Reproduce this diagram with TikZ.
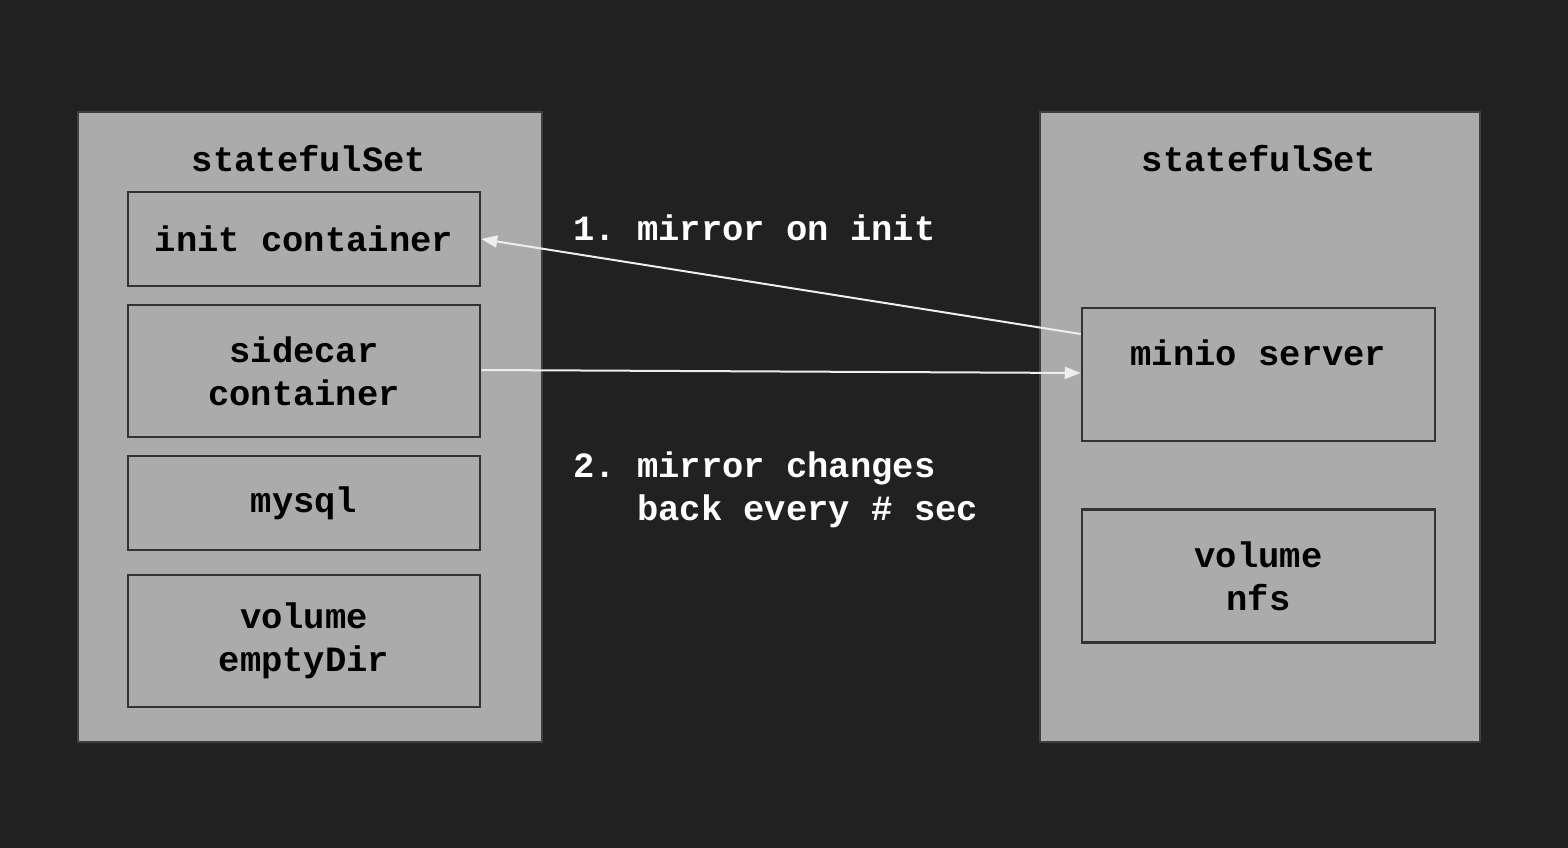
\documentclass[tikz,border=0pt]{standalone}
\usepackage{fontspec}
\setmonofont{Liberation Mono}
\usetikzlibrary{arrows.meta}
\definecolor{bg}{HTML}{212121}
\definecolor{boxfill}{HTML}{ABABAB}
\definecolor{boxline}{HTML}{333333}
\definecolor{outline}{HTML}{3F3F3F}
\definecolor{arrowc}{HTML}{EEEEEE}
\tikzset{
  outerbox/.style={draw=outline, line width=2pt, fill=boxfill, anchor=north west, inner sep=0pt},
  innerbox/.style={draw=boxline, line width=2.5pt, fill=boxfill, inner sep=0pt, align=center,
     font=\fontsize{35.5}{43}\selectfont\ttfamily\bfseries, text=black},
  title/.style={font=\fontsize{35.5}{43}\selectfont\ttfamily\bfseries, text=black},
  note/.style={font=\fontsize{35.5}{43}\selectfont\ttfamily\bfseries, text=white, align=left, anchor=west, inner sep=0pt},
  conn/.style={draw=arrowc, line width=2pt, -{Triangle[length=16pt,width=12pt]}}
}
\begin{document}
\begin{tikzpicture}[x=1pt,y=-1pt]
\fill[bg] (0,0) rectangle (1568,848);
\useasboundingbox (0,0) rectangle (1568,848);
% outer boxes
\node[outerbox, minimum width=464pt, minimum height=630pt] (left) at (77,111) {};
\node[outerbox, minimum width=440pt, minimum height=630pt] (right) at (1039,111) {};
\node[title] (lt) at (309,159) {statefulSet};
\node[title] (rt) at (1259,159) {statefulSet};
% left inner boxes
\node[innerbox, minimum width=352pt, minimum height=94pt] (init) at (304,239) {init container};
\node[innerbox, minimum width=352pt, minimum height=132pt] (side) at (304,371) {sidecar\\container};
\node[innerbox, minimum width=352pt, minimum height=94pt] (mysql) at (304,503) {mysql};
\node[innerbox, minimum width=352pt, minimum height=132pt] (vol) at (304,641) {volume\\emptyDir};
% right inner boxes
\node[innerbox, minimum width=353pt, minimum height=133pt] (minio) at (1258.5,374.5) {minio server\\\mbox{}};
\node[innerbox, minimum width=353pt, minimum height=133pt] (nfs) at (1258.5,576) {volume\\nfs};
% labels
\node[note] (n1) at (573,228) {1. mirror on init};
\node[note] (n2) at (573,490) {2. mirror changes\\\phantom{2. }back every \# sec};
% connectors
\coordinate (a1s) at (minio.west |- 0,334);
\coordinate (a1e) at (init.east |- 0,239);
\draw[conn] (a1s) -- (a1e);
\coordinate (a2s) at (side.east |- 0,370);
\coordinate (a2e) at (minio.west |- 0,373);
\draw[conn] (a2s) -- (a2e);
\end{tikzpicture}
\end{document}
